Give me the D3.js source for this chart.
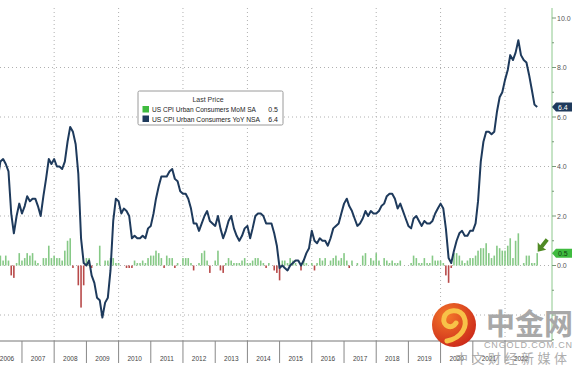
<!DOCTYPE html>
<html>
<head>
<meta charset="utf-8">
<script src="https://cdn.jsdelivr.net/npm/d3@7"></script>
<style>
  body { margin: 0; background: #fff; }
  svg { display: block; font-family: "Liberation Sans", Arial, sans-serif; }
</style>
</head>
<body>
<svg id="chart" width="588" height="374"></svg>
<script>
// monthly, Jan 2006 .. Jan 2023
const yoyNSA = [
  4.0, 3.6, 3.4, 3.5, 4.2, 4.3, 4.1, 3.8, 2.1, 1.3, 2.0, 2.5,
  2.1, 2.4, 2.8, 2.6, 2.7, 2.7, 2.4, 2.0, 2.8, 3.5, 4.3, 4.1,
  4.3, 4.0, 4.0, 3.9, 4.2, 5.0, 5.6, 5.4, 4.9, 3.7, 1.1, 0.1,
  0.0, 0.2, -0.4, -0.7, -1.3, -1.4, -2.1, -1.5, -1.3, -0.2, 1.8, 2.7,
  2.6, 2.1, 2.3, 2.2, 2.0, 1.1, 1.2, 1.1, 1.1, 1.2, 1.1, 1.5,
  1.6, 2.1, 2.7, 3.2, 3.6, 3.6, 3.6, 3.8, 3.9, 3.5, 3.4, 3.0,
  2.9, 2.9, 2.7, 2.3, 1.7, 1.7, 1.4, 1.7, 2.0, 2.2, 1.8, 1.7,
  1.6, 2.0, 1.5, 1.1, 1.4, 1.8, 2.0, 1.5, 1.2, 1.0, 1.2, 1.5,
  1.6, 1.1, 1.5, 2.0, 2.1, 2.1, 2.0, 1.7, 1.7, 1.7, 1.3, 0.8,
  -0.1, 0.0, -0.1, -0.2, 0.0, 0.1, 0.2, 0.2, 0.0, 0.2, 0.5, 0.7,
  1.4, 1.0, 0.9, 1.1, 1.0, 1.0, 0.8, 1.1, 1.5, 1.6, 1.7, 2.1,
  2.5, 2.7, 2.4, 2.2, 1.9, 1.6, 1.7, 1.9, 2.2, 2.0, 2.2, 2.1,
  2.1, 2.2, 2.4, 2.5, 2.8, 2.9, 2.9, 2.7, 2.3, 2.5, 2.2, 1.9,
  1.6, 1.5, 1.9, 2.0, 1.8, 1.6, 1.8, 1.7, 1.7, 1.8, 2.1, 2.3,
  2.5, 2.3, 1.5, 0.3, 0.1, 0.6, 1.0, 1.3, 1.4, 1.2, 1.2, 1.4,
  1.4, 1.7, 2.6, 4.2, 5.0, 5.4, 5.4, 5.3, 5.4, 6.2, 6.8, 7.0,
  7.5, 7.9, 8.5, 8.3, 8.6, 9.1, 8.5, 8.3, 8.2, 7.7, 7.1, 6.5,
  6.4
];

const momSA = [
  0.6, 0.1, 0.3, 0.5, 0.4, 0.2, 0.4, 0.2, -0.4, -0.5, 0.1, 0.5,
  0.2, 0.3, 0.5, 0.4, 0.5, 0.2, 0.1, 0.0, 0.3, 0.3, 0.8, 0.3,
  0.4, 0.3, 0.3, 0.2, 0.6, 1.0, 1.1, -0.1, 0.0, -0.8, -1.7, -0.8,
  0.3, 0.3, -0.1, 0.0, 0.1, 0.8, 0.0, 0.2, 0.2, 0.3, 0.3, 0.1,
  0.1, 0.0, 0.0, -0.1, -0.1, -0.1, 0.2, 0.1, 0.1, 0.2, 0.1, 0.3,
  0.4, 0.4, 0.6, 0.5, 0.3, -0.1, 0.4, 0.3, 0.3, -0.1, 0.1, 0.0,
  0.3, 0.3, 0.3, 0.1, -0.2, 0.0, 0.1, 0.5, 0.6, 0.2, -0.3, 0.0,
  0.2, 0.6, -0.2, -0.3, 0.1, 0.3, 0.2, 0.1, 0.1, 0.1, 0.2, 0.3,
  0.1, 0.1, 0.2, 0.3, 0.3, 0.2, 0.1, -0.1, 0.1, 0.0, -0.2, -0.3,
  -0.6, 0.2, 0.2, 0.1, 0.3, 0.2, 0.1, 0.0, -0.2, 0.2, 0.1, 0.0,
  0.1, -0.2, 0.1, 0.3, 0.2, 0.3, 0.0, 0.2, 0.3, 0.4, 0.2, 0.3,
  0.5, 0.2, -0.1, 0.2, 0.0, 0.1, 0.0, 0.4, 0.5, 0.0, 0.3, 0.2,
  0.5, 0.2, 0.0, 0.3, 0.2, 0.1, 0.2, 0.1, 0.1, 0.2, 0.0, 0.0,
  0.0, 0.1, 0.4, 0.3, 0.1, 0.1, 0.3, 0.1, 0.1, 0.4, 0.2, 0.2,
  0.2, 0.1, -0.4, -0.7, -0.1, 0.5, 0.5, 0.4, 0.2, 0.1, 0.2, 0.3,
  0.3, 0.4, 0.6, 0.7, 0.7, 0.9, 0.5, 0.3, 0.4, 0.8, 0.7, 0.6,
  0.6, 0.8, 1.1, 0.3, 1.0, 1.3, 0.0, 0.1, 0.4, 0.4, 0.1, 0.1,
  0.5
];

const yearLabels = d3.range(2006, 2023);
const yTicks = [0, 2, 4, 6, 8, 10];
const gridYears = [2008, 2010, 2012, 2014, 2016, 2018, 2020, 2022];

const months = yoyNSA.map((d, i) => new Date(2006, i, 1));

const svg = d3.select("#chart");
const plotRight = 552, plotBottom = 341;

const x = d3.scaleTime()
  .domain([new Date(2006, 0, 1), new Date(2023, 0, 1)])
  .range([-10.2, 537.2]);
const y = d3.scaleLinear().domain([0, 10]).range([265.5, 18]);

svg.append("clipPath").attr("id", "plotclip")
  .append("rect").attr("x", 0).attr("y", 0).attr("width", plotRight).attr("height", plotBottom);

// gridlines
const grid = svg.append("g").attr("stroke", "#b0b0b0").attr("stroke-dasharray", "1,3");
grid.selectAll("line.h").data([-2, 0, 2, 4, 6, 8]).join("line")
  .attr("x1", 0).attr("x2", plotRight)
  .attr("y1", d => y(d)).attr("y2", d => y(d));
grid.selectAll("line.v").data(gridYears).join("line")
  .attr("x1", d => x(new Date(d, 0, 1))).attr("x2", d => x(new Date(d, 0, 1)))
  .attr("y1", 8).attr("y2", plotBottom);

const plot = svg.append("g").attr("clip-path", "url(#plotclip)");

// MoM bars
plot.selectAll("rect.bar").data(momSA).join("rect")
  .attr("x", (d, i) => x(months[i]) - 0.8)
  .attr("width", 1.6)
  .attr("y", d => d >= 0 ? y(d) : y(0))
  .attr("height", d => Math.abs(y(d) - y(0)))
  .attr("fill", d => d >= 0 ? "#86c986" : "#b84a4a");

// YoY line
plot.append("path")
  .datum(yoyNSA)
  .attr("fill", "none")
  .attr("stroke", "#1e3a5c")
  .attr("stroke-width", 2)
  .attr("stroke-linejoin", "round")
  .attr("d", d3.line().x((d, i) => x(months[i])).y(d => y(d)));

// arrow pointing at last bar
const lastX = x(months[months.length - 1]);
const lastTop = y(momSA[momSA.length - 1]);
svg.append("path")
  .attr("fill", "#4f8a24")
  .attr("d", `M${lastX + 0.5},${lastTop - 1.5} l8.5,-2 l-3,-2 l5.5,-7 l-3,-2.5 l-5.5,7 l-2.5,-3 z`);

// right axis
const axisG = svg.append("g").attr("transform", `translate(${plotRight},0)`);
axisG.append("line").attr("y1", 8).attr("y2", plotBottom).attr("stroke", "#8cc88c").attr("stroke-width", 1);
axisG.selectAll("line.minor").data(d3.range(-3, 11, 1)).join("line")
  .attr("x1", 0).attr("x2", d => d % 2 === 0 ? 4 : 2)
  .attr("y1", d => y(d)).attr("y2", d => y(d))
  .attr("stroke", "#7a9a7a");
axisG.selectAll("text.tick").data(yTicks).join("text")
  .attr("x", 5).attr("y", d => y(d) + 2.5)
  .attr("font-size", 7).attr("fill", "#555")
  .text(d => d.toFixed(1));

// last price tags
function tag(val, fill, txtColor) {
  const cy = y(val);
  axisG.append("path")
    .attr("d", `M0,${cy} L4,${cy - 4.5} L20,${cy - 4.5} L20,${cy + 4.5} L4,${cy + 4.5} Z`)
    .attr("fill", fill);
  axisG.append("text").attr("x", 6).attr("y", cy + 2.5)
    .attr("font-size", 7).attr("fill", txtColor).text(val.toFixed(1));
}
tag(yoyNSA[yoyNSA.length - 1], "#1e3a5c", "#fff");
tag(momSA[momSA.length - 1], "#3fbb3f", "#124012");

// bottom axis
svg.append("line").attr("x1", 0).attr("x2", plotRight)
  .attr("y1", plotBottom).attr("y2", plotBottom).attr("stroke", "#777");
svg.selectAll("line.sep").data(yearLabels.slice(1)).join("line")
  .attr("x1", d => x(new Date(d, 0, 1))).attr("x2", d => x(new Date(d, 0, 1)))
  .attr("y1", plotBottom).attr("y2", 363).attr("stroke", "#888");
svg.selectAll("text.year").data(yearLabels).join("text")
  .attr("x", d => Math.max(7, (x(new Date(d, 0, 1)) + x(new Date(d + 1, 0, 1))) / 2))
  .attr("y", 361).attr("text-anchor", "middle")
  .attr("font-size", 6.5).attr("fill", "#444")
  .text(d => d);

// legend
const lg = svg.append("g").attr("transform", "translate(138,91)");
lg.append("rect").attr("width", 145).attr("height", 34).attr("rx", 1.5)
  .attr("fill", "#fff").attr("stroke", "#9a9a9a");
lg.append("text").attr("x", 70).attr("y", 11).attr("text-anchor", "middle")
  .attr("font-size", 7).attr("fill", "#333").text("Last Price");
const legendRows = [
  { color: "#3fbb3f", label: "US CPI Urban Consumers MoM SA", val: momSA[momSA.length - 1] },
  { color: "#1e3a5c", label: "US CPI Urban Consumers YoY NSA", val: yoyNSA[yoyNSA.length - 1] }
];
legendRows.forEach((r, i) => {
  lg.append("rect").attr("x", 4.5).attr("y", 15 + i * 9.5).attr("width", 6.5).attr("height", 6.5).attr("fill", r.color);
  lg.append("text").attr("x", 14).attr("y", 21 + i * 9.5).attr("font-size", 7)
    .attr("fill", "#222").attr("textLength", i === 0 ? 104 : 108).attr("lengthAdjust", "spacingAndGlyphs").text(r.label);
  lg.append("text").attr("x", 140).attr("y", 21 + i * 9.5).attr("text-anchor", "end")
    .attr("font-size", 7).attr("fill", "#222").text(r.val.toFixed(1));
});

// watermark
const wm = svg.append("g");
const grad = svg.append("defs").append("radialGradient").attr("id", "logoGrad")
  .attr("cx", "35%").attr("cy", "30%").attr("r", "75%");
grad.append("stop").attr("offset", "0%").attr("stop-color", "#f4782a");
grad.append("stop").attr("offset", "100%").attr("stop-color", "#cc2a1a");
wm.append("circle").attr("cx", 454).attr("cy", 325).attr("r", 22).attr("fill", "url(#logoGrad)");
wm.append("path")
  .attr("d", "M447,341 C462,338 468,326 464,317 C460,308 446,309 444,318 C442,326 452,330 456,323")
  .attr("fill", "none").attr("stroke", "#f8c248").attr("stroke-width", 5).attr("stroke-linecap", "round");
wm.append("text").attr("x", 486).attr("y", 335)
  .attr("font-family", "'Noto Sans CJK SC', sans-serif").attr("font-weight", "bold")
  .attr("font-size", 29).attr("fill", "#a8a8a8").attr("textLength", 87).text("中金网");
wm.append("text").attr("x", 484).attr("y", 347.5)
  .attr("font-size", 9).attr("fill", "#a8a8a8").attr("textLength", 88).text("CNGOLD.COM.CN");
wm.append("text").attr("x", 455).attr("y", 363)
  .attr("font-family", "'Noto Sans CJK SC', sans-serif")
  .attr("font-size", 13).attr("fill", "#a0a0a0").attr("opacity", 0.85).attr("textLength", 112).text("中文财经新媒体");
</script>
</body>
</html>
